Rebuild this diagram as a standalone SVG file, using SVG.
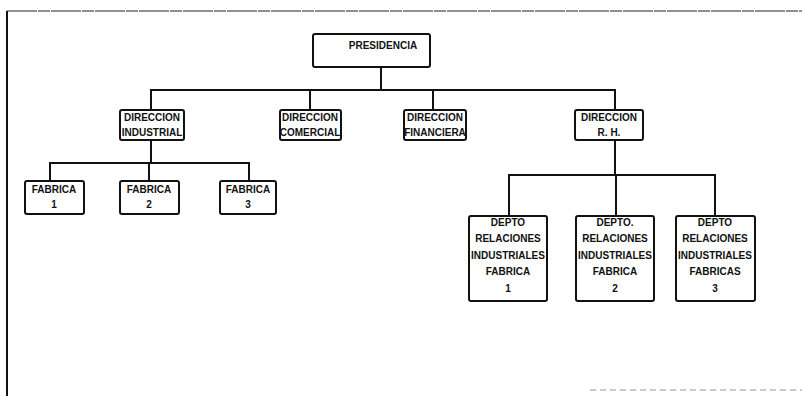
<svg xmlns="http://www.w3.org/2000/svg" width="802" height="396" viewBox="0 0 802 396">
<style>
.box{fill:#fff;stroke:#111;stroke-width:2;rx:2}
.t{font-family:"Liberation Sans",Arial,sans-serif;font-weight:bold;font-size:10px;fill:#111;text-anchor:middle}
.c{fill:none;stroke:#111;stroke-width:2}
</style>
<rect width="802" height="396" fill="#fff"/>
<g id="frame">
<line x1="7" y1="11" x2="802" y2="11" stroke="#222" stroke-width="1.2" stroke-dasharray="30 1 12 1"/>
<line x1="7" y1="11" x2="7" y2="396" stroke="#111" stroke-width="2"/>
<line x1="590" y1="390" x2="802" y2="390" stroke="#999" stroke-width="1.2" stroke-dasharray="6 4"/>
</g>
<g id="connectors">
<path class="c" d="M381 67V90M151 110V90H615V110M310 90V110M433 90V110"/>
<path class="c" d="M151 140V163M50 181V163H249V181M149 163V181"/>
<path class="c" d="M615 140V175M509 216V175H715V216M616 175V216"/>
</g>
<g id="presidencia"><rect class="box" x="313" y="34" width="117" height="33"/><text class="t" x="383" y="49">PRESIDENCIA</text></g>
<g id="dir-industrial"><rect class="box" x="120" y="110" width="64" height="30"/><text class="t" x="152" y="121">DIRECCION</text><text class="t" x="152" y="136">INDUSTRIAL</text></g>
<g id="dir-comercial"><rect class="box" x="280" y="110" width="61" height="30"/><text class="t" x="310" y="121">DIRECCION</text><text class="t" x="310" y="136">COMERCIAL</text></g>
<g id="dir-financiera"><rect class="box" x="404" y="110" width="62" height="30"/><text class="t" x="435" y="121">DIRECCION</text><text class="t" x="435" y="136">FINANCIERA</text></g>
<g id="dir-rh"><rect class="box" x="575" y="110" width="68" height="30"/><text class="t" x="609" y="121">DIRECCION</text><text class="t" x="609" y="136">R. H.</text></g>
<g id="fabrica1"><rect class="box" x="25" y="181" width="59" height="33"/><text class="t" x="54" y="193">FABRICA</text><text class="t" x="54" y="208">1</text></g>
<g id="fabrica2"><rect class="box" x="120" y="181" width="59" height="33"/><text class="t" x="149" y="193">FABRICA</text><text class="t" x="149" y="208">2</text></g>
<g id="fabrica3"><rect class="box" x="220" y="181" width="56" height="33"/><text class="t" x="248" y="193">FABRICA</text><text class="t" x="248" y="208">3</text></g>
<g id="depto1"><rect class="box" x="469" y="216" width="78" height="85"/><text class="t" x="508" y="226">DEPTO</text><text class="t" x="508" y="242">RELACIONES</text><text class="t" x="508" y="259">INDUSTRIALES</text><text class="t" x="508" y="275">FABRICA</text><text class="t" x="508" y="292">1</text></g>
<g id="depto2"><rect class="box" x="576" y="216" width="78" height="85"/><text class="t" x="615" y="226">DEPTO.</text><text class="t" x="615" y="242">RELACIONES</text><text class="t" x="615" y="259">INDUSTRIALES</text><text class="t" x="615" y="275">FABRICA</text><text class="t" x="615" y="292">2</text></g>
<g id="depto3"><rect class="box" x="676" y="216" width="79" height="85"/><text class="t" x="715" y="226">DEPTO</text><text class="t" x="715" y="242">RELACIONES</text><text class="t" x="715" y="259">INDUSTRIALES</text><text class="t" x="715" y="275">FABRICAS</text><text class="t" x="715" y="292">3</text></g>
</svg>
